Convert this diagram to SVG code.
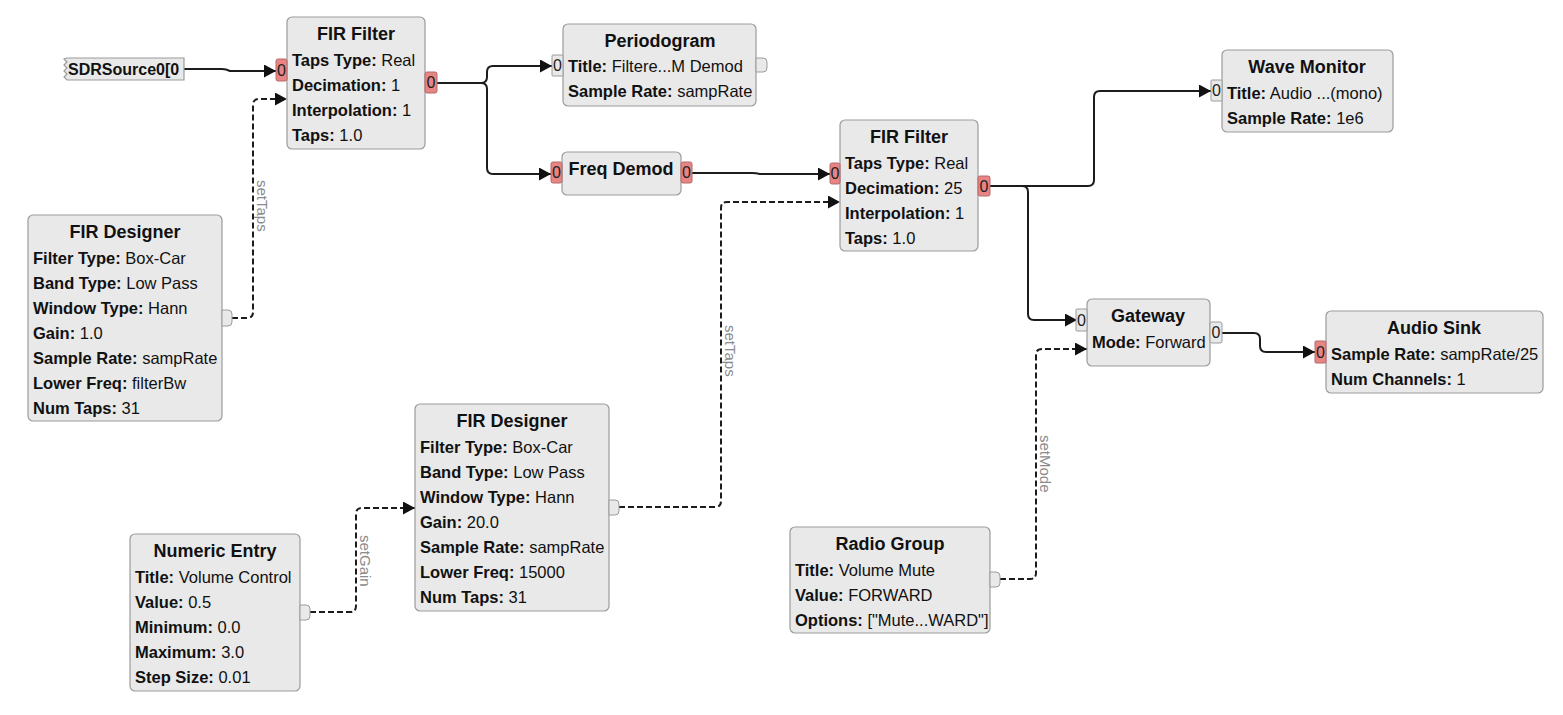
<svg xmlns="http://www.w3.org/2000/svg" width="1563" height="715" viewBox="0 0 1563 715">
<defs>
<style>
.box{fill:#e9e9e9;stroke:#9c9c9c;stroke-width:1.2}
.ttl{font-family:"Liberation Sans",Arial,sans-serif;font-size:18px;font-weight:bold;text-anchor:middle;fill:#111}
.row{font-family:"Liberation Sans",Arial,sans-serif;font-size:16.5px;fill:#111}
.row tspan.k{font-weight:bold}
.pr{fill:#e88484;stroke:#b36a6a;stroke-width:1}
.pg{fill:#e9e9e9;stroke:#9c9c9c;stroke-width:1}
.pl{font-family:"Liberation Sans",Arial,sans-serif;font-size:16px;fill:#222;text-anchor:middle}
.w{fill:none;stroke:#1c1c1c;stroke-width:2}
.d{fill:none;stroke:#1c1c1c;stroke-width:2;stroke-dasharray:6 3}
.lbl{font-family:"Liberation Sans",Arial,sans-serif;font-size:15px;fill:#8a8a8a}
</style>
<marker id="ah" markerUnits="userSpaceOnUse" markerWidth="13" markerHeight="13" refX="12" refY="6.5" orient="auto">
<path d="M0,0 L12,6.5 L0,13 z" fill="#111"/>
</marker>
</defs>

<g id="connectors">
<path class="w" d="M184,69 H222 Q226,69 230,71 H276" marker-end="url(#ah)"/>
<path class="d" d="M232,318 H247 Q253,318 253,312 V105 Q253,99 259,99 H287" marker-end="url(#ah)"/>
<path class="w" d="M437,83 H481 Q487,83 487,77 V72 Q487,66 493,66 H552" marker-end="url(#ah)"/>
<path class="w" d="M437,83 H481 Q487,83 487,89 V168 Q487,174 493,174 H551" marker-end="url(#ah)"/>
<path class="w" d="M692,173 H752 Q756,173 760,174 H830" marker-end="url(#ah)"/>
<path class="d" d="M619,507 H715 Q721,507 721,501 V208 Q721,202 727,202 H840" marker-end="url(#ah)"/>
<path class="w" d="M990,186 H1088 Q1094,186 1094,180 V97 Q1094,91 1100,91 H1211" marker-end="url(#ah)"/>
<path class="w" d="M990,186 H1022 Q1028,186 1028,192 V314 Q1028,320 1034,320 H1077" marker-end="url(#ah)"/>
<path class="d" d="M1000,579 H1030 Q1036,579 1036,573 V355 Q1036,349 1042,349 H1087" marker-end="url(#ah)"/>
<path class="w" d="M1222,333 H1254 Q1260,333 1260,339 V346 Q1260,352 1266,352 H1315" marker-end="url(#ah)"/>
<path class="d" d="M310,612 H350 Q356,612 356,606 V514 Q356,508 362,508 H415" marker-end="url(#ah)"/>
<text class="lbl" transform="translate(257,180) rotate(90)">setTaps</text>
<text class="lbl" transform="translate(725,325) rotate(90)">setTaps</text>
<text class="lbl" transform="translate(360,535) rotate(90)">setGain</text>
<text class="lbl" transform="translate(1040,435) rotate(90)">setMode</text>
</g>

<g id="sdrsource">
<path class="box" d="M184,58 V80 H67 L64,77 L67,74 L64,71 L67,68 L64,65 L67,62 L64,59 L67,58 Z"/>
<text class="row" x="68" y="75" style="font-weight:bold;font-size:16px">SDRSource0[0</text>
</g>

<g id="fir1">
<rect class="box" x="287" y="17" width="138" height="132" rx="5"/>
<text class="ttl" x="356" y="40">FIR Filter</text>
<text class="row" x="292" y="66"><tspan class="k">Taps Type:</tspan> Real</text>
<text class="row" x="292" y="91"><tspan class="k">Decimation:</tspan> 1</text>
<text class="row" x="292" y="116"><tspan class="k">Interpolation:</tspan> 1</text>
<text class="row" x="292" y="141"><tspan class="k">Taps:</tspan> 1.0</text>
<rect class="pr" x="276" y="59" width="11" height="22" rx="2"/>
<text class="pl" x="281.5" y="76">0</text>
<rect class="pr" x="425" y="72" width="12" height="21" rx="2"/>
<text class="pl" x="431" y="88">0</text>
</g>

<g id="periodogram">
<rect class="box" x="563" y="24" width="193" height="82" rx="5"/>
<text class="ttl" x="660" y="47">Periodogram</text>
<text class="row" x="568" y="72"><tspan class="k">Title:</tspan> Filtere...M Demod</text>
<text class="row" x="568" y="97"><tspan class="k">Sample Rate:</tspan> sampRate</text>
<rect class="pg" x="552" y="55" width="11" height="21" rx="1"/>
<text class="pl" x="557.5" y="71">0</text>
<path class="pg" d="M756,58 H763 Q767,58 767,62 V68 Q767,72 763,72 H756 Z"/>
</g>

<g id="freqdemod">
<rect class="box" x="562" y="152" width="119" height="43" rx="5"/>
<text class="ttl" x="621" y="175">Freq Demod</text>
<rect class="pr" x="551" y="162" width="11" height="21" rx="2"/>
<text class="pl" x="556.5" y="178">0</text>
<rect class="pr" x="681" y="162" width="11" height="21" rx="2"/>
<text class="pl" x="686.5" y="178">0</text>
</g>

<g id="fir2">
<rect class="box" x="840" y="120" width="138" height="131" rx="5"/>
<text class="ttl" x="909" y="143">FIR Filter</text>
<text class="row" x="845" y="169"><tspan class="k">Taps Type:</tspan> Real</text>
<text class="row" x="845" y="194"><tspan class="k">Decimation:</tspan> 25</text>
<text class="row" x="845" y="219"><tspan class="k">Interpolation:</tspan> 1</text>
<text class="row" x="845" y="244"><tspan class="k">Taps:</tspan> 1.0</text>
<rect class="pr" x="830" y="163" width="10" height="21" rx="2"/>
<text class="pl" x="835" y="179">0</text>
<rect class="pr" x="978" y="176" width="12" height="20" rx="2"/>
<text class="pl" x="984" y="192">0</text>
</g>

<g id="wavemonitor">
<rect class="box" x="1222" y="50" width="171" height="82" rx="5"/>
<text class="ttl" x="1307" y="73">Wave Monitor</text>
<text class="row" x="1227" y="99"><tspan class="k">Title:</tspan> Audio ...(mono)</text>
<text class="row" x="1227" y="124"><tspan class="k">Sample Rate:</tspan> 1e6</text>
<rect class="pg" x="1211" y="80" width="11" height="21" rx="1"/>
<text class="pl" x="1216.5" y="96">0</text>
</g>

<g id="gateway">
<rect class="box" x="1087" y="299" width="123" height="67" rx="5"/>
<text class="ttl" x="1148" y="322">Gateway</text>
<text class="row" x="1092" y="348"><tspan class="k">Mode:</tspan> Forward</text>
<rect class="pg" x="1076" y="309" width="11" height="22" rx="1"/>
<text class="pl" x="1081.5" y="326">0</text>
<rect class="pg" x="1210" y="322" width="12" height="21" rx="2"/>
<text class="pl" x="1216" y="338">0</text>
</g>

<g id="audiosink">
<rect class="box" x="1326" y="311" width="217" height="82" rx="5"/>
<text class="ttl" x="1434" y="334">Audio Sink</text>
<text class="row" x="1331" y="360"><tspan class="k">Sample Rate:</tspan> sampRate/25</text>
<text class="row" x="1331" y="385"><tspan class="k">Num Channels:</tspan> 1</text>
<rect class="pr" x="1315" y="341" width="11" height="22" rx="1"/>
<text class="pl" x="1320.5" y="358">0</text>
</g>

<g id="firdesigner1">
<rect class="box" x="28" y="215" width="194" height="206" rx="5"/>
<text class="ttl" x="125" y="238">FIR Designer</text>
<text class="row" x="33" y="264"><tspan class="k">Filter Type:</tspan> Box-Car</text>
<text class="row" x="33" y="289"><tspan class="k">Band Type:</tspan> Low Pass</text>
<text class="row" x="33" y="314"><tspan class="k">Window Type:</tspan> Hann</text>
<text class="row" x="33" y="339"><tspan class="k">Gain:</tspan> 1.0</text>
<text class="row" x="33" y="364"><tspan class="k">Sample Rate:</tspan> sampRate</text>
<text class="row" x="33" y="389"><tspan class="k">Lower Freq:</tspan> filterBw</text>
<text class="row" x="33" y="414"><tspan class="k">Num Taps:</tspan> 31</text>
<path class="pg" d="M222,310 H228 Q232,310 232,314 V322 Q232,326 228,326 H222 Z"/>
</g>

<g id="firdesigner2">
<rect class="box" x="415" y="404" width="194" height="207" rx="5"/>
<text class="ttl" x="512" y="427">FIR Designer</text>
<text class="row" x="420" y="453"><tspan class="k">Filter Type:</tspan> Box-Car</text>
<text class="row" x="420" y="478"><tspan class="k">Band Type:</tspan> Low Pass</text>
<text class="row" x="420" y="503"><tspan class="k">Window Type:</tspan> Hann</text>
<text class="row" x="420" y="528"><tspan class="k">Gain:</tspan> 20.0</text>
<text class="row" x="420" y="553"><tspan class="k">Sample Rate:</tspan> sampRate</text>
<text class="row" x="420" y="578"><tspan class="k">Lower Freq:</tspan> 15000</text>
<text class="row" x="420" y="603"><tspan class="k">Num Taps:</tspan> 31</text>
<path class="pg" d="M609,500 H615 Q619,500 619,504 V511 Q619,515 615,515 H609 Z"/>
</g>

<g id="numericentry">
<rect class="box" x="130" y="534" width="170" height="157" rx="5"/>
<text class="ttl" x="215" y="557">Numeric Entry</text>
<text class="row" x="135" y="583"><tspan class="k">Title:</tspan> Volume Control</text>
<text class="row" x="135" y="608"><tspan class="k">Value:</tspan> 0.5</text>
<text class="row" x="135" y="633"><tspan class="k">Minimum:</tspan> 0.0</text>
<text class="row" x="135" y="658"><tspan class="k">Maximum:</tspan> 3.0</text>
<text class="row" x="135" y="683"><tspan class="k">Step Size:</tspan> 0.01</text>
<path class="pg" d="M300,605 H306 Q310,605 310,609 V616 Q310,620 306,620 H300 Z"/>
</g>

<g id="radiogroup">
<rect class="box" x="790" y="527" width="200" height="106" rx="5"/>
<text class="ttl" x="890" y="550">Radio Group</text>
<text class="row" x="795" y="576"><tspan class="k">Title:</tspan> Volume Mute</text>
<text class="row" x="795" y="601"><tspan class="k">Value:</tspan> FORWARD</text>
<text class="row" x="795" y="626"><tspan class="k">Options:</tspan> ["Mute...WARD"]</text>
<path class="pg" d="M990,572 H996 Q1000,572 1000,576 V583 Q1000,587 996,587 H990 Z"/>
</g>
</svg>
